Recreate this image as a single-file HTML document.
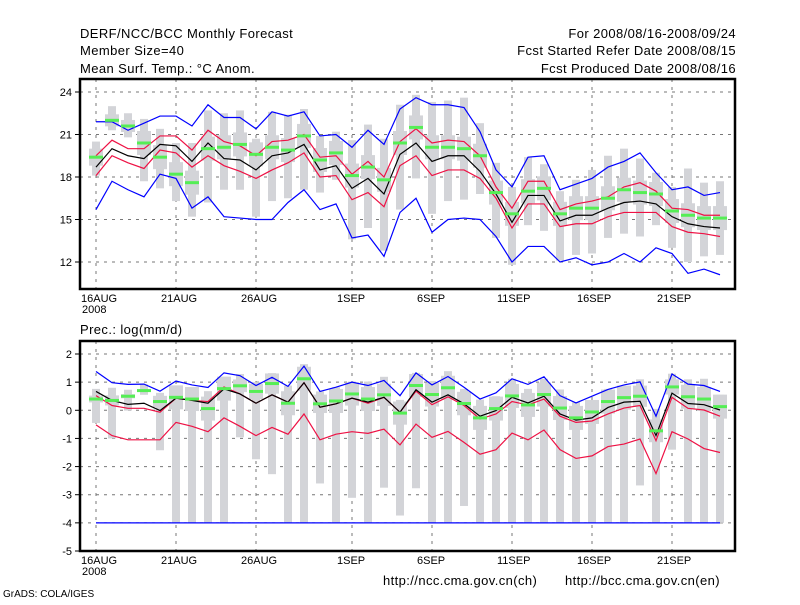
<!DOCTYPE html>
<html><head><meta charset="utf-8"><style>
body{margin:0;background:#fff;}
svg text{font-family:"Liberation Sans",sans-serif;fill:#000;}
</style></head><body>
<svg id="chart" width="800" height="600" xmlns="http://www.w3.org/2000/svg">
<rect width="800" height="600" fill="#fff"/>
<g font-size="13" letter-spacing="0.4">
<text x="80" y="38">DERF/NCC/BCC Monthly Forecast</text>
<text x="80" y="55">Member Size=40</text>
<text x="80" y="73">Mean Surf. Temp.: °C Anom.</text>
<text x="736" y="38" text-anchor="end">For 2008/08/16-2008/09/24</text>
<text x="736" y="55" text-anchor="end">Fcst Started Refer Date 2008/08/15</text>
<text x="736" y="73" text-anchor="end">Fcst Produced Date 2008/08/16</text>
<text x="80" y="334">Prec.: log(mm/d)</text>
<text x="383" y="585">http://ncc.cma.gov.cn(ch)</text>
<text x="565" y="585">http://bcc.cma.gov.cn(en)</text>
<text x="3" y="597" font-size="10" letter-spacing="0">GrADS: COLA/IGES</text>
</g>
<g id="top"></g>
<g id="bot"></g>
</svg>
<script>
const days = ["16AUG","","","","","21AUG","","","","","26AUG","","","","","","1SEP","","","","","6SEP","","","","","11SEP","","","","","16SEP","","","","","21SEP","","",""];
const tTicks = [24,21,18,15,12];
const pTicks = [2,1,0,-1,-2,-3,-4,-5];
// Temperature panel
const tBlueHi=[21.9,21.9,21.3,21.8,22.3,22.3,21.6,23.1,22.2,22.2,21.4,22.6,22.3,22.6,20.9,21.0,20.1,21.3,20.3,22.8,23.6,23.1,23.1,22.9,21.2,18.5,17.3,19.4,19.5,17.1,17.5,17.9,18.7,19.1,19.7,18.3,17.1,17.3,16.7,16.9];
const tRedHi=[19.5,20.6,20.0,20.0,20.9,20.9,19.9,21.3,20.5,20.2,19.5,20.5,20.6,21.0,19.4,19.5,18.2,19.1,18.0,20.5,21.4,20.4,20.6,20.5,19.5,17.3,15.8,17.7,17.7,15.7,16.1,16.3,16.6,17.3,17.6,17.0,15.8,15.7,15.3,15.3];
const tMean=[18.7,20.0,19.5,19.3,20.3,20.2,19.1,20.4,19.3,19.2,18.5,19.5,19.7,20.3,18.5,18.8,17.2,17.9,16.8,19.6,20.4,19.1,19.5,19.5,18.4,16.8,14.8,16.7,16.7,14.9,15.3,15.3,15.8,16.2,16.3,16.1,15.2,14.7,14.5,14.4];
const tRedLo=[18.1,19.5,19.0,18.6,19.9,19.7,18.7,19.5,18.8,18.4,17.9,18.5,19.0,19.7,18.0,18.1,16.4,16.9,15.9,18.8,19.5,18.1,18.5,18.5,17.9,16.5,14.4,16.1,16.1,14.5,14.7,14.7,15.2,15.5,15.5,15.5,14.5,14.1,14.0,13.8];
const tBlueLo=[15.7,17.7,17.1,16.6,18.2,17.9,15.8,16.6,15.2,15.1,15.0,15.0,16.2,17.1,15.7,16.1,13.7,13.9,12.4,15.5,16.5,14.1,15.0,15.1,15.0,13.8,12.0,13.1,13.1,12.0,12.3,11.8,12.0,12.6,12.0,13.0,12.6,11.2,11.5,11.1];
const tObs=[19.4,22.0,21.6,20.4,19.4,18.2,17.6,20.0,20.1,20.3,19.6,20.1,19.9,20.9,19.2,19.7,18.1,18.7,17.8,20.4,21.5,20.1,20.1,20.0,19.5,16.9,15.4,17.0,17.2,15.4,15.8,15.8,16.5,17.1,16.9,16.8,15.6,15.3,15.1,15.1];
const tBarHi=[20.5,23.0,22.5,22.1,21.4,20.4,20.4,22.7,22.5,22.7,20.7,22.6,22.4,22.8,20.9,21.2,20.6,21.7,20.7,23.1,23.8,23.3,23.4,23.6,21.8,19.0,17.3,19.4,18.9,17.0,17.8,18.5,19.5,20.0,19.3,18.3,17.3,18.6,17.6,17.7];
const tBarLo=[18.1,21.3,20.8,17.7,17.2,16.3,15.2,16.2,17.1,17.1,15.2,16.3,16.5,17.1,16.9,17.8,13.6,14.4,12.8,15.7,17.9,15.4,16.3,16.4,16.8,13.7,11.8,14.6,14.2,12.1,12.5,12.6,13.7,14.0,13.8,14.6,13.0,12.0,12.4,12.5];
// Precipitation panel
const pBlueHi=[1.38,0.98,0.92,0.93,0.68,1.04,0.90,0.81,1.33,1.23,0.88,1.17,0.85,1.57,0.67,0.82,1.00,0.88,1.06,0.52,1.33,0.90,1.20,0.82,0.40,0.62,1.12,0.92,1.19,0.52,0.26,0.50,0.74,0.90,1.01,-0.21,1.29,0.93,0.88,0.67];
const pRedHi=[0.52,0.17,0.07,0.07,-0.07,0.43,0.35,0.31,0.83,0.58,0.25,0.55,0.29,0.98,0.11,0.23,0.43,0.25,0.46,-0.07,0.68,0.20,0.48,0.17,-0.31,-0.13,0.31,0.19,0.40,-0.21,-0.43,-0.38,-0.13,0.08,0.17,-1.08,0.46,0.07,0.01,-0.21];
const pMean=[0.67,0.35,0.21,0.25,-0.01,0.43,0.35,0.25,0.76,0.58,0.25,0.55,0.29,0.98,0.11,0.23,0.43,0.29,0.46,-0.07,0.73,0.29,0.55,0.23,-0.21,-0.01,0.46,0.26,0.50,-0.13,-0.35,-0.27,0.10,0.29,0.32,-0.90,0.61,0.24,0.20,0.01];
const pRedLo=[-0.52,-0.90,-1.05,-1.05,-1.05,-0.43,-0.57,-0.76,-0.27,-0.57,-0.90,-0.61,-0.85,-0.13,-1.05,-0.85,-0.76,-0.82,-0.67,-1.23,-0.49,-0.96,-0.75,-1.14,-1.56,-1.40,-0.81,-1.05,-0.70,-1.40,-1.71,-1.62,-1.29,-1.20,-1.02,-2.25,-0.76,-1.02,-1.36,-1.50];
const pBlueLo=[-4,-4,-4,-4,-4,-4,-4,-4,-4,-4,-4,-4,-4,-4,-4,-4,-4,-4,-4,-4,-4,-4,-4,-4,-4,-4,-4,-4,-4,-4,-4,-4,-4,-4,-4,-4,-4,-4,-4,-4];
const pObs=[0.40,0.35,0.50,0.70,0.31,0.46,0.40,0.06,0.77,0.87,0.67,0.95,0.25,1.12,0.23,0.33,0.58,0.40,0.55,-0.10,0.88,0.56,0.80,0.24,-0.27,0.06,0.51,0.19,0.56,0.08,-0.27,-0.06,0.31,0.45,0.50,-0.73,0.83,0.48,0.40,0.13];
const pBarHi=[0.76,0.80,0.73,0.92,0.62,0.58,0.52,0.68,0.94,1.29,1.00,1.32,0.88,1.64,0.67,0.82,1.02,1.02,1.19,0.37,1.33,1.04,1.39,0.76,0.38,0.50,1.12,0.76,1.12,0.74,0.29,0.29,0.76,0.58,1.10,0.05,1.30,1.10,1.12,0.55];
const pBarLo=[-0.45,-1.0,-0.01,0.55,-1.42,-4,-4,-4,-4,-0.96,-1.74,-2.27,-4,-4,-2.6,-4,-3.11,-4,-2.75,-3.74,-2.77,-4,-4,-3.4,-4,-4,-4,-4,-4,-4,-4,-4,-4,-4,-2.67,-4,-1.4,-4,-4,-4];

const NS="http://www.w3.org/2000/svg";
function mk(parent,tag,attrs){const e=document.createElementNS(NS,tag);for(const k in attrs)e.setAttribute(k,attrs[k]);parent.appendChild(e);return e;}
const X0=80,X1=735;
const xs=i=>96+16*i;

function panel(g,top,bot,vA,yA,vB,yB,ticks,ser,name,boxFrac){
  const ys=v=>yA+(vA-v)*((yB-yA)/(vA-vB));
  ticks.forEach(t=>{
    const y=ys(t);
    if(y>top+2&&y<bot-2){const l=mk(g,'line',{x1:X0,x2:X1,y1:y,y2:y,stroke:'#777','stroke-dasharray':'3,5','stroke-width':1});
    
    }
    const tk=mk(g,'line',{x1:X0-5,x2:X0,y1:y,y2:y,stroke:'#000'});
    
    
    const tx=mk(g,'text',{x:X0-8,y:y+4,'text-anchor':'end','font-size':11});
    tx.textContent=t;
    
    
  });
  days.forEach((d,i)=>{
    if(!d)return;
    const x=xs(i);
    const l=mk(g,'line',{x1:x,x2:x,y1:top,y2:bot,stroke:'#777','stroke-dasharray':'3,5'});
    
    
    const tx=mk(g,'text',{x:x-15,y:bot+13,'font-size':11});
    tx.textContent=d;
    
    
  });
  const ty=mk(g,'text',{x:82,y:bot+24,'font-size':11});ty.textContent='2008';
  
  
  ser.barHi.forEach((h,i)=>{
    const y1=ys(h),y2=ys(ser.barLo[i]);
    const r=mk(g,'rect',{x:xs(i)-4,y:y1,width:8,height:Math.max(1,y2-y1),fill:'#d3d4d8'});
    
    
    const m=ys(ser.obs[i]),hh=Math.min(12,(y2-y1)*boxFrac);
    const r2=mk(g,'rect',{x:xs(i)-7,y:m-hh,width:14,height:2*hh,fill:'#d3d4d8'});
    
    
  });
  const lines=[[ser.blueLo,'#0000ff','min-line'],[ser.blueHi,'#0000ff','max-line'],[ser.redHi,'#ee1144','upper-line'],[ser.redLo,'#ee1144','lower-line'],[ser.mean,'#000','mean-line']];
  lines.forEach(([arr,c,n])=>{
    const p=mk(g,'polyline',{points:arr.map((v,i)=>xs(i)+','+ys(v)).join(' '),fill:'none',stroke:c,'stroke-width':1.2});
    
    
  });
  ser.obs.forEach((v,i)=>{
    const r=mk(g,'rect',{x:xs(i)-7,y:ys(v)-1.5,width:14,height:3,fill:'#55ee55'});
    
    
  });
  const f=mk(g,'rect',{x:X0,y:top,width:X1-X0,height:bot-top,fill:'none',stroke:'#000','stroke-width':2.5});
  
  
}
panel(document.getElementById('top'),79,289,24,92,12,262,tTicks,{blueHi:tBlueHi,redHi:tRedHi,mean:tMean,redLo:tRedLo,blueLo:tBlueLo,obs:tObs,barHi:tBarHi,barLo:tBarLo},'temperature',0.25);
panel(document.getElementById('bot'),341,551,2,354,-5,551,pTicks,{blueHi:pBlueHi,redHi:pRedHi,mean:pMean,redLo:pRedLo,blueLo:pBlueLo,obs:pObs,barHi:pBarHi,barLo:pBarLo},'precipitation',0.1);
</script>
</body></html>
